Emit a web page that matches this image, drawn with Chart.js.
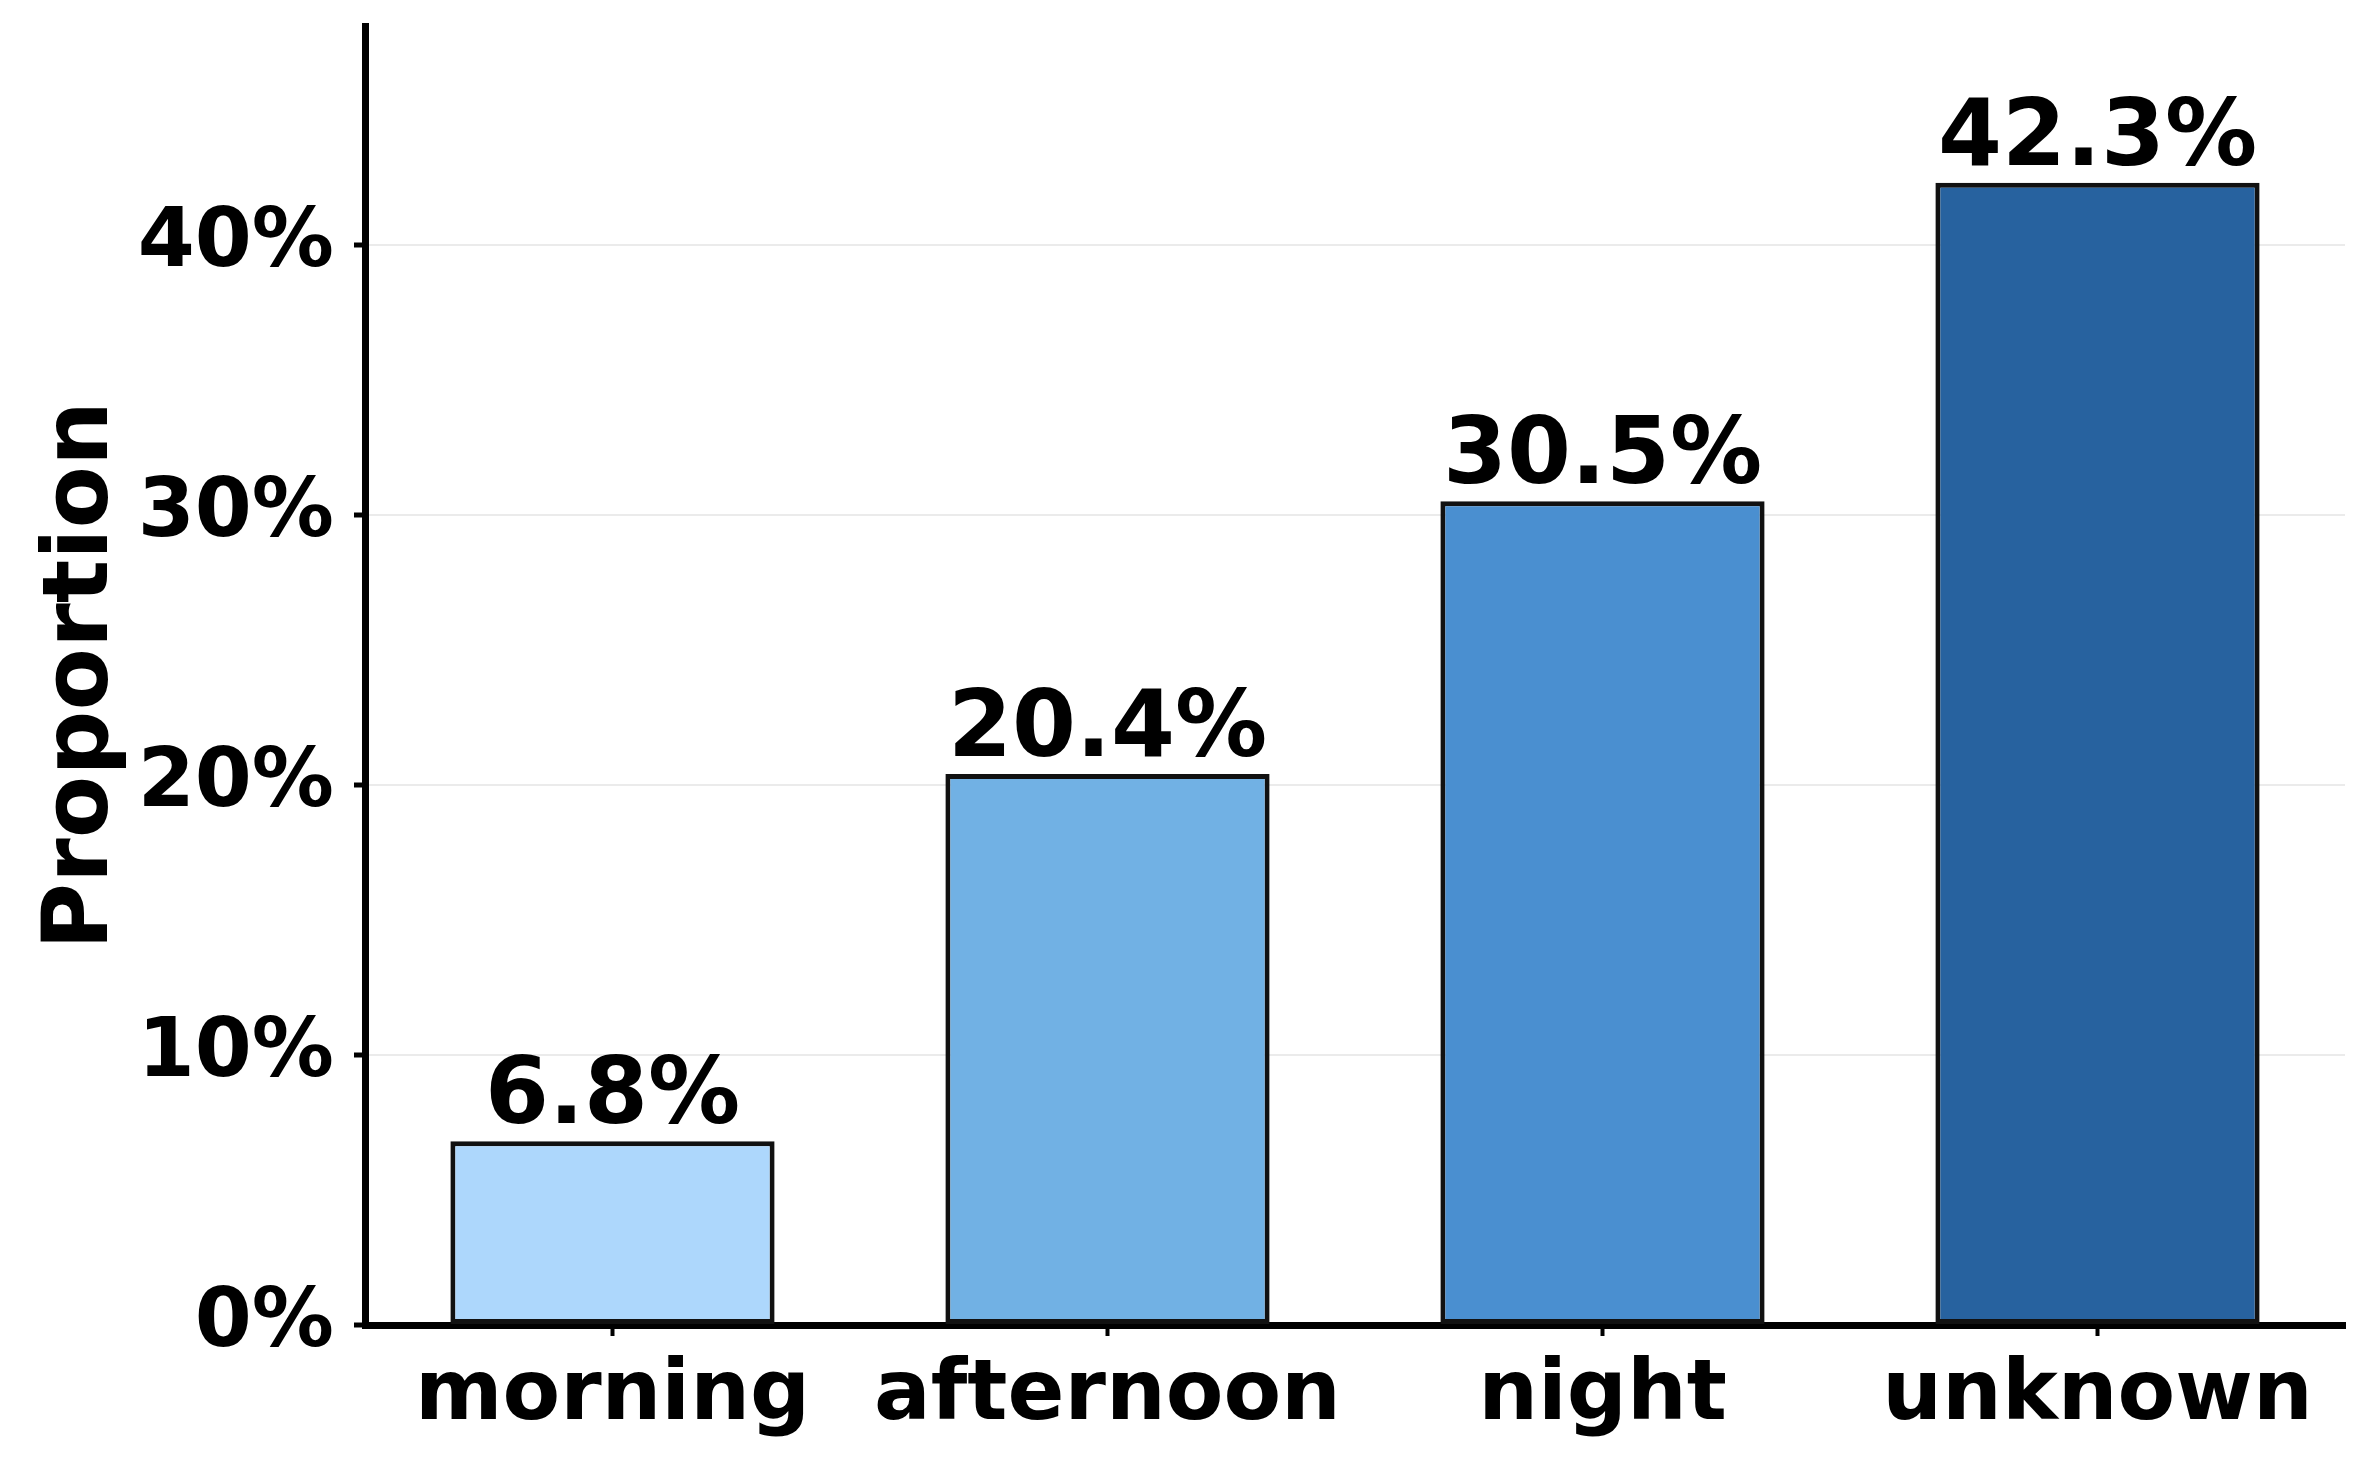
<!DOCTYPE html>
<html>
<head>
<meta charset="utf-8">
<script src="https://cdn.jsdelivr.net/npm/chart.js@4.4.1/dist/chart.umd.min.js"></script>
<style>
  html, body { margin: 0; padding: 0; background: #ffffff; }
  #wrap { width: 2373px; height: 1467px; }
</style>
</head>
<body>
<div id="wrap"><canvas id="c" width="2373" height="1467"></canvas></div>
<script>
const categories = ["morning", "afternoon", "night", "unknown"];
const values = [6.8, 20.4, 30.5, 42.3];
const barColors = ["#ADD7FC", "#71B1E4", "#4A8FD0", "#27629F"];
const yTicks = [0, 10, 20, 30, 40];
const yMax = 48.1;

Chart.defaults.font.family = "'DejaVu Sans', sans-serif";
Chart.defaults.font.weight = "bold";
Chart.defaults.color = "#000000";

const valueLabels = {
  id: "valueLabels",
  afterDatasetsDraw(chart) {
    const ctx = chart.ctx;
    const meta = chart.getDatasetMeta(0);
    ctx.save();
    ctx.font = "bold 92px 'DejaVu Sans'";
    ctx.fillStyle = "#000";
    ctx.textAlign = "center";
    ctx.textBaseline = "alphabetic";
    meta.data.forEach((el, i) => {
      ctx.fillText(values[i].toFixed(1) + "%", el.x, el.y - 18);
    });
    ctx.restore();
  }
};

new Chart(document.getElementById("c"), {
  type: "bar",
  data: {
    labels: categories,
    datasets: [{
      data: values,
      backgroundColor: barColors,
      borderColor: "#111111",
      borderWidth: 5,
      borderSkipped: false,
      categoryPercentage: 1.0,
      barPercentage: 0.655
    }]
  },
  options: {
    responsive: false,
    animation: false,
    devicePixelRatio: 1,
    layout: { padding: { top: 26, right: 28, left: 0, bottom: 0 } },
    plugins: { legend: { display: false }, tooltip: { enabled: false } },
    scales: {
      x: {
        grid: { display: true, drawOnChartArea: false, drawTicks: true, offset: false,
                tickLength: 11, tickWidth: 4, tickColor: "#000" },
        border: { display: true, color: "#000", width: 7 },
        ticks: { font: { size: 84, weight: "bold" }, padding: 11, color: "#000", maxRotation: 0 },
        afterFit(scale) { scale.height = 142; scale.paddingLeft = 0; scale.paddingRight = 0; }
      },
      y: {
        min: 0,
        max: yMax,
        grid: { display: true, drawOnChartArea: true, color: "#ebebeb", lineWidth: 2,
                drawTicks: true, tickLength: 11, tickWidth: 5, tickColor: "#000" },
        border: { display: true, color: "#000", width: 7 },
        ticks: { stepSize: 10, includeBounds: false, font: { size: 82, weight: "bold" }, padding: 20, color: "#000",
                 callback: (v) => v + "%" },
        afterBuildTicks(scale) { scale.ticks = yTicks.map(v => ({ value: v })); },
        title: { display: true, text: "Proportion", font: { size: 91, weight: "bold" }, color: "#000",
                 padding: { top: 29, bottom: 0 } },
        afterFit(scale) { scale.width = 365; scale.paddingTop = 0; scale.paddingBottom = 0; }
      }
    }
  },
  plugins: [valueLabels]
});
</script>
</body>
</html>
